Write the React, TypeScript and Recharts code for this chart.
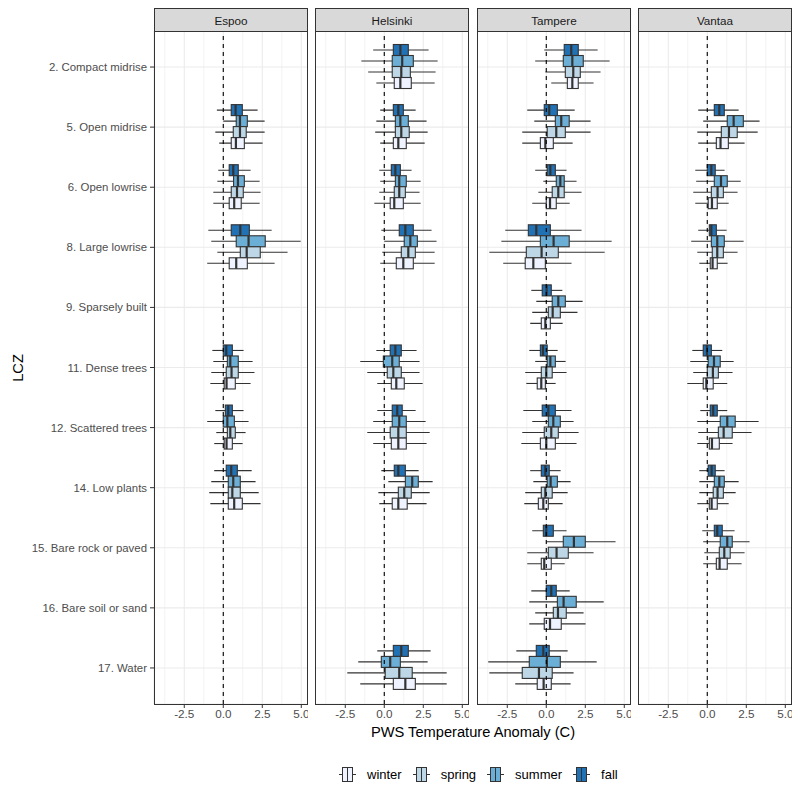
import React from 'react';
import { ComposedChart, Bar, XAxis, YAxis, CartesianGrid, ReferenceLine } from 'recharts';

const LCZ = [
  '2. Compact midrise', '5. Open midrise', '6. Open lowrise', '8. Large lowrise',
  '9. Sparsely built', '11. Dense trees', '12. Scattered trees', '14. Low plants',
  '15. Bare rock or paved', '16. Bare soil or sand', '17. Water',
];
const CITIES = ['Espoo', 'Helsinki', 'Tampere', 'Vantaa'];
const SEASONS = ['winter', 'spring', 'summer', 'fall'];
const SEASON_COLORS = ['#EFF3FF', '#BDD7E7', '#6BAED6', '#2171B5'];
const X_TICKS = [-2.5, 0, 2.5, 5];
const X_MINOR = [-3.75, -1.25, 1.25, 3.75];

// [min, q1, median, q3, max] per LCZ (same order as LCZ), null = no data
type Box = number[] | null;

const ESPOO_WINTER: Box[] = [null, [-0.26, 0.51, 0.81, 1.35, 2.52], [-0.64, 0.38, 0.7, 1.15, 2.33], [-1.03, 0.38, 0.83, 1.54, 3.29], null, [-0.83, 0.06, 0.21, 0.77, 1.75], [-0.58, 0.06, 0.21, 0.58, 1.24], [-0.83, 0.32, 0.7, 1.22, 2.39], null, null, null];
const ESPOO_SPRING: Box[] = [null, [-0.51, 0.64, 1.07, 1.47, 2.65], [-0.64, 0.51, 0.88, 1.28, 2.39], [-0.38, 1.09, 1.5, 2.37, 4.12], null, [-0.77, 0.19, 0.53, 0.96, 2.0], [-0.45, 0.26, 0.45, 0.77, 1.43], [-0.9, 0.32, 0.58, 1.09, 2.27], null, null, null];
const ESPOO_SUMMER: Box[] = [null, [0.0, 0.83, 1.07, 1.54, 2.65], [-0.38, 0.66, 0.94, 1.35, 2.33], [-0.77, 0.83, 1.62, 2.69, 4.96], null, [-0.64, 0.26, 0.45, 0.96, 1.88], [-1.03, 0.0, 0.26, 0.71, 1.62], [-0.77, 0.32, 0.64, 1.09, 2.07], null, null, null];
const ESPOO_FALL: Box[] = [null, [-0.41, 0.51, 0.79, 1.22, 2.2], [-0.32, 0.38, 0.64, 0.96, 1.75], [-0.96, 0.51, 1.09, 1.67, 3.1], null, [-0.7, 0.0, 0.19, 0.58, 1.3], [-0.51, 0.13, 0.32, 0.58, 1.3], [-0.58, 0.19, 0.51, 0.9, 1.82], null, null, null];

const HELSINKI_WINTER: Box[] = [[-0.51, 0.64, 1.03, 1.73, 3.23], [-0.26, 0.58, 0.9, 1.41, 2.59], [-0.64, 0.38, 0.64, 1.22, 2.33], [-0.26, 0.77, 1.22, 1.86, 3.23], null, [-0.45, 0.45, 0.77, 1.28, 2.46], [-0.71, 0.45, 0.9, 1.41, 2.71], [-0.32, 0.51, 0.9, 1.47, 2.71], null, null, [-1.54, 0.58, 1.35, 1.99, 4.0]];
const HELSINKI_SPRING: Box[] = [[-1.03, 0.51, 1.09, 1.67, 3.29], [-0.58, 0.71, 1.09, 1.6, 2.78], [-0.32, 0.64, 0.96, 1.35, 2.26], [-0.13, 1.09, 1.54, 1.99, 3.23], null, [-1.09, 0.19, 0.58, 1.09, 2.26], [-1.09, 0.38, 0.9, 1.41, 2.91], [-0.38, 0.9, 1.28, 1.73, 2.91], null, null, [-2.37, 0.06, 0.96, 1.79, 4.0]];
const HELSINKI_SUMMER: Box[] = [[-1.47, 0.51, 1.15, 1.86, 3.42], [-0.51, 0.71, 1.03, 1.54, 2.71], [-0.26, 0.71, 0.96, 1.41, 2.33], [0.0, 1.28, 1.67, 2.12, 3.35], null, [-1.54, -0.06, 0.51, 0.96, 2.26], [-0.71, 0.51, 0.96, 1.41, 2.65], [0.26, 1.35, 1.79, 2.18, 3.1], null, null, [-1.67, -0.19, 0.38, 1.03, 2.78]];
const HELSINKI_FALL: Box[] = [[-0.71, 0.58, 1.03, 1.54, 2.84], [-0.26, 0.58, 0.9, 1.22, 2.01], [-0.32, 0.45, 0.71, 1.03, 1.75], [-0.19, 0.96, 1.35, 1.86, 3.03], null, [-0.51, 0.38, 0.71, 1.09, 2.07], [-0.45, 0.51, 0.83, 1.15, 2.01], [-0.19, 0.64, 0.9, 1.35, 2.2], null, null, [-0.45, 0.58, 1.09, 1.54, 2.97]];

const TAMPERE_WINTER: Box[] = [[0.32, 1.35, 1.67, 2.05, 3.03], [-1.54, -0.38, -0.06, 0.45, 1.69], [-0.9, 0.0, 0.24, 0.64, 1.5], [-2.76, -1.35, -0.83, -0.06, 1.62], [-1.03, -0.32, -0.06, 0.26, 1.05], [-1.28, -0.58, -0.32, -0.06, 0.6], [-1.6, -0.38, 0.0, 0.58, 1.94], [-1.41, -0.51, -0.19, 0.13, 1.05], [-1.22, -0.32, -0.13, 0.32, 1.18], [-1.09, -0.13, 0.24, 0.96, 2.52], [-1.99, -0.58, -0.17, 0.32, 1.56]];
const TAMPERE_SPRING: Box[] = [[-0.06, 1.22, 1.73, 2.18, 3.48], [-1.54, 0.06, 0.64, 1.22, 2.84], [-0.51, 0.38, 0.77, 1.15, 2.26], [-3.65, -1.28, -0.3, 0.77, 3.74], [-0.9, 0.13, 0.41, 0.9, 2.0], [-1.35, -0.32, 0.0, 0.38, 1.3], [-1.54, -0.13, 0.32, 0.77, 2.07], [-1.35, -0.32, -0.06, 0.38, 1.37], [-1.22, 0.13, 0.66, 1.41, 3.03], [-0.71, 0.45, 0.75, 1.28, 2.39], [-3.65, -1.54, -0.47, 0.38, 1.75]];
const TAMPERE_SUMMER: Box[] = [[-0.71, 1.09, 1.67, 2.37, 4.06], [-0.77, 0.58, 0.96, 1.47, 2.84], [-0.19, 0.64, 0.9, 1.15, 1.94], [-2.88, -0.38, 0.47, 1.47, 4.19], [-0.64, 0.38, 0.77, 1.22, 2.33], [-0.71, 0.06, 0.26, 0.58, 1.24], [-0.9, 0.13, 0.45, 0.9, 1.75], [-0.83, 0.06, 0.28, 0.71, 1.56], [0.0, 1.09, 1.77, 2.5, 4.44], [-1.09, 0.71, 1.11, 1.92, 3.68], [-3.72, -1.09, 0.04, 0.9, 3.23]];
const TAMPERE_FALL: Box[] = [[-0.13, 1.15, 1.6, 2.05, 3.29], [-1.22, -0.13, 0.19, 0.71, 1.82], [-0.71, 0.06, 0.26, 0.58, 1.3], [-2.63, -1.15, -0.64, 0.26, 2.26], [-0.96, -0.26, 0.02, 0.32, 1.03], [-1.09, -0.38, -0.21, 0.06, 0.73], [-1.47, -0.26, 0.13, 0.58, 1.62], [-1.03, -0.32, -0.06, 0.19, 0.92], [-0.9, -0.19, 0.0, 0.45, 1.3], [-0.96, 0.0, 0.32, 0.64, 1.5], [-1.92, -0.64, -0.19, 0.19, 1.37]];

const VANTAA_WINTER: Box[] = [null, [-0.58, 0.58, 0.85, 1.35, 2.39], [-0.77, 0.06, 0.3, 0.64, 1.37], [-0.51, 0.19, 0.34, 0.64, 1.3], null, [-1.28, -0.26, -0.06, 0.38, 1.28], [-0.64, 0.13, 0.3, 0.77, 1.62], [-0.64, 0.13, 0.28, 0.64, 1.37], [-0.26, 0.58, 0.79, 1.28, 2.2], null, null];
const VANTAA_SPRING: Box[] = [null, [-0.64, 0.9, 1.39, 1.92, 3.23], [-0.9, 0.26, 0.66, 1.03, 1.94], [-0.64, 0.32, 0.64, 1.03, 1.94], null, [-0.9, 0.0, 0.36, 0.71, 1.62], [-0.58, 0.71, 1.05, 1.6, 2.84], [-0.51, 0.38, 0.66, 1.03, 1.82], [-0.19, 0.77, 1.09, 1.47, 2.39], null, null];
const VANTAA_SUMMER: Box[] = [null, [-0.26, 1.28, 1.69, 2.31, 3.35], [-0.71, 0.45, 0.88, 1.28, 2.14], [-1.03, 0.26, 0.64, 1.09, 2.33], null, [-1.09, 0.06, 0.43, 0.83, 1.69], [-0.64, 0.83, 1.28, 1.79, 3.29], [-0.51, 0.45, 0.77, 1.09, 2.01], [-0.26, 0.83, 1.28, 1.6, 2.71], null, null];
const VANTAA_FALL: Box[] = [null, [-0.58, 0.45, 0.77, 1.09, 2.01], [-0.77, 0.0, 0.26, 0.51, 1.11], [-0.58, 0.13, 0.26, 0.58, 1.24], null, [-0.96, -0.26, -0.02, 0.26, 0.96], [-0.45, 0.19, 0.38, 0.64, 1.28], [-0.51, 0.06, 0.28, 0.51, 1.11], [-0.32, 0.45, 0.64, 0.96, 1.75], null, null];

const CITY_DATA: Box[][][] = [
  [ESPOO_WINTER, ESPOO_SPRING, ESPOO_SUMMER, ESPOO_FALL],
  [HELSINKI_WINTER, HELSINKI_SPRING, HELSINKI_SUMMER, HELSINKI_FALL],
  [TAMPERE_WINTER, TAMPERE_SPRING, TAMPERE_SUMMER, TAMPERE_FALL],
  [VANTAA_WINTER, VANTAA_SPRING, VANTAA_SUMMER, VANTAA_FALL],
];

// layout
const PANEL_LEFT = [154, 315, 477, 638];
const PANEL_W = 154;
const AXIS_W = 154;
const STRIP_TOP = 8;
const PLOT_TOP = 31;
const PLOT_H = 673;
const XAXIS_H = 22;
const DARK = '#333333';
const FONT = '"Liberation Sans", Arial, Helvetica, sans-serif';

// fall is drawn at the top of each band, winter at the bottom
const DRAW_ORDER = [3, 2, 1, 0];

const buildRows = (series: Box[][]) =>
  LCZ.map((lcz, i) => {
    const row: any = { lcz };
    SEASONS.forEach((s, k) => { row[s] = series[k][i]; });
    return row;
  });

const pick = (s: string, a: number, b: number) => (d: any) => (d[s] ? [d[s][a], d[s][b]] : null);

const whiskerShape = (s: string) => (p: any) => {
  if (!p.payload || !p.payload[s] || !Number.isFinite(p.width)) return <g />;
  const cy = p.y + p.height / 2;
  return <line x1={p.x} x2={p.x + p.width} y1={cy} y2={cy} stroke={DARK} strokeWidth={1.1} />;
};

const boxShape = (s: string, fill: string) => (p: any) => {
  if (!p.payload || !p.payload[s] || !Number.isFinite(p.width)) return <g />;
  return <rect x={p.x} y={p.y} width={p.width} height={p.height} fill={fill} stroke={DARK} strokeWidth={1.1} />;
};

const medianShape = (s: string) => (p: any) => {
  if (!p.payload || !p.payload[s] || !Number.isFinite(p.width)) return <g />;
  const mx = p.x + p.width;
  return <line x1={mx} x2={mx} y1={p.y} y2={p.y + p.height} stroke={DARK} strokeWidth={2.2} />;
};

function Panel({ idx }: { idx: number }) {
  const showAxis = idx === 0;
  const rows = buildRows(CITY_DATA[idx]);
  const yPad = { top: 6, bottom: 6 };
  return (
    <ComposedChart
      layout="vertical"
      width={showAxis ? AXIS_W + PANEL_W : PANEL_W}
      height={PLOT_H + XAXIS_H}
      data={rows}
      margin={{ top: 0, right: 0, bottom: 0, left: 0 }}
      barCategoryGap="12.5%"
      barGap={0}
    >
      <CartesianGrid stroke="#EBEBEB" strokeWidth={1.1} />
      <XAxis
        type="number"
        domain={[-4.44, 5.43]}
        allowDataOverflow
        ticks={X_TICKS}
        interval={0}
        tickFormatter={(v: number) => v.toFixed(1)}
        height={XAXIS_H}
        axisLine={false}
        tickLine={{ stroke: DARK }}
        tickSize={4}
        tickMargin={2}
        tick={{ fill: '#4D4D4D', fontSize: 11.7 }}
      />
      <YAxis
        yAxisId={0}
        type="category"
        dataKey="lcz"
        hide={!showAxis}
        width={showAxis ? AXIS_W : 0}
        padding={yPad}
        interval={0}
        axisLine={false}
        tickLine={{ stroke: DARK }}
        tickSize={4}
        tickMargin={3}
        tick={{ fill: '#4D4D4D', fontSize: 11.4 }}
      />
      <YAxis yAxisId="b" type="category" dataKey="lcz" hide padding={yPad} />
      <YAxis yAxisId="m" type="category" dataKey="lcz" hide padding={yPad} />
      {X_MINOR.map((v) => (
        <ReferenceLine key={'minor' + v} x={v} stroke="#EBEBEB" strokeWidth={0.6} zIndex={-90} />
      ))}
      {DRAW_ORDER.map((k) => (
        <Bar key={'w' + k} yAxisId={0} dataKey={pick(SEASONS[k], 0, 4)} shape={whiskerShape(SEASONS[k])} isAnimationActive={false} />
      ))}
      {DRAW_ORDER.map((k) => (
        <Bar key={'b' + k} yAxisId="b" dataKey={pick(SEASONS[k], 1, 3)} shape={boxShape(SEASONS[k], SEASON_COLORS[k])} isAnimationActive={false} />
      ))}
      {DRAW_ORDER.map((k) => (
        <Bar key={'m' + k} yAxisId="m" dataKey={pick(SEASONS[k], 1, 2)} shape={medianShape(SEASONS[k])} isAnimationActive={false} />
      ))}
      <ReferenceLine x={0} stroke="#000000" strokeWidth={1.1} strokeDasharray="4 4" zIndex={1500} />
    </ComposedChart>
  );
}

function LegendGlyph({ color }: { color: string }) {
  return (
    <svg width={17} height={17} style={{ display: 'block' }}>
      <line x1={0} x2={17} y1={8.5} y2={8.5} stroke={DARK} strokeWidth={1} />
      <rect x={3.5} y={1.5} width={10} height={14} fill={color} stroke={DARK} strokeWidth={1} />
      <line x1={8.5} x2={8.5} y1={1.5} y2={15.5} stroke={DARK} strokeWidth={1} />
    </svg>
  );
}

export default function App() {
  return (
    <div style={{ position: 'absolute', left: 0, top: 0, width: 800, height: 800, background: '#FFFFFF', fontFamily: FONT }}>
      {CITIES.map((c, i) => (
        <div
          key={'strip' + c}
          style={{
            position: 'absolute', left: PANEL_LEFT[i], top: STRIP_TOP, width: PANEL_W, height: PLOT_TOP - STRIP_TOP + 1,
            boxSizing: 'border-box', background: '#D9D9D9', border: `1px solid ${DARK}`,
            display: 'flex', alignItems: 'center', justifyContent: 'center', fontSize: 11.7, color: '#1A1A1A',
          }}
        >
          {c}
        </div>
      ))}
      {CITIES.map((c, i) => (
        <div
          key={'chart' + c}
          style={{ position: 'absolute', left: i === 0 ? PANEL_LEFT[0] - AXIS_W : PANEL_LEFT[i], top: PLOT_TOP }}
        >
          <Panel idx={i} />
        </div>
      ))}
      {CITIES.map((c, i) => (
        <div
          key={'border' + c}
          style={{
            position: 'absolute', left: PANEL_LEFT[i], top: PLOT_TOP, width: PANEL_W, height: PLOT_H + 1,
            boxSizing: 'border-box', border: `1px solid ${DARK}`, pointerEvents: 'none',
          }}
        />
      ))}
      <div
        style={{
          position: 'absolute', left: 18, top: PLOT_TOP + PLOT_H / 2, transform: 'translate(-50%, -50%) rotate(-90deg)',
          fontSize: 14.67, color: '#000000', whiteSpace: 'nowrap',
        }}
      >
        LCZ
      </div>
      <div
        style={{
          position: 'absolute', left: PANEL_LEFT[0], width: PANEL_LEFT[3] + PANEL_W - PANEL_LEFT[0], top: 724,
          textAlign: 'center', fontSize: 14.67, color: '#000000',
        }}
      >
        PWS Temperature Anomaly (C)
      </div>
      <div
        style={{
          position: 'absolute', left: 339, top: 766,
          display: 'flex', alignItems: 'center', fontSize: 13, color: '#000000', whiteSpace: 'nowrap',
        }}
      >
        {SEASONS.map((s, k) => (
          <div key={'leg' + s} style={{ display: 'flex', alignItems: 'center', marginRight: k < 3 ? 11 : 0 }}>
            <LegendGlyph color={SEASON_COLORS[k]} />
            <span style={{ marginLeft: 11 }}>{s}</span>
          </div>
        ))}
      </div>
    </div>
  );
}
